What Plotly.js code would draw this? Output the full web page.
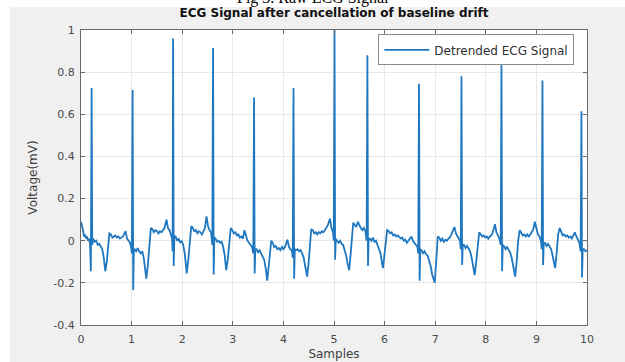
<!DOCTYPE html>
<html>
<head>
<meta charset="utf-8">
<script src="https://cdn.plot.ly/plotly-3.0.1.min.js"></script>
<style>html,body{margin:0;padding:0;background:#fff;}#chart{width:625px;height:362px;}</style>
</head>
<body>
<div id="chart"></div>
<script>
// ---- data ----
const seriesName = "Detrended ECG Signal";
const sampleX = [
0.00,0.02,0.04,0.06,0.08,0.10,0.12,0.14,0.16,0.18,0.195,0.21,0.222,
0.24,0.27,0.30,0.33,0.36,0.39,0.42,0.45,0.48,0.51,0.54,0.56,0.59,0.62,0.65,0.68,0.71,0.74,0.77,0.80,0.83,0.86,0.88,0.91,0.94,0.97,0.99,1.005,1.02,1.032,1.045,
1.06,1.09,1.12,1.15,1.18,1.21,1.24,1.27,1.29,1.32,1.35,1.38,1.41,1.44,1.47,1.50,1.53,1.56,1.59,1.62,1.65,1.69,1.72,1.75,1.78,1.80,1.81,1.82,1.832,1.845,
1.87,1.90,1.93,1.96,1.99,2.02,2.05,2.09,2.12,2.15,2.18,2.21,2.24,2.27,2.30,2.33,2.36,2.39,2.42,2.45,2.48,2.51,2.54,2.57,2.595,2.61,2.622,2.635,
2.66,2.69,2.72,2.75,2.78,2.81,2.84,2.87,2.90,2.93,2.96,2.99,3.02,3.05,3.08,3.11,3.14,3.17,3.20,3.23,3.26,3.29,3.32,3.35,3.38,3.405,3.42,3.432,3.445,
3.47,3.50,3.53,3.56,3.59,3.62,3.65,3.68,3.71,3.74,3.76,3.79,3.82,3.85,3.88,3.91,3.94,3.97,4.00,4.03,4.06,4.08,4.11,4.14,4.17,4.185,4.20,4.212,4.225,
4.25,4.28,4.31,4.34,4.37,4.40,4.43,4.47,4.50,4.53,4.55,4.58,4.61,4.64,4.67,4.70,4.73,4.76,4.79,4.82,4.85,4.88,4.92,4.95,4.98,4.995,5.01,5.022,5.035,
5.06,5.09,5.12,5.15,5.18,5.21,5.24,5.27,5.30,5.33,5.36,5.38,5.41,5.44,5.47,5.50,5.53,5.56,5.59,5.62,5.645,5.66,5.672,5.685,
5.71,5.74,5.77,5.80,5.83,5.86,5.89,5.92,5.95,5.97,6.00,6.03,6.05,6.08,6.11,6.14,6.17,6.20,6.23,6.26,6.29,6.32,6.35,6.38,6.41,6.44,6.47,6.50,6.53,6.56,6.59,6.62,6.65,6.665,6.68,6.692,6.705,
6.73,6.76,6.79,6.82,6.85,6.88,6.91,6.94,6.99,7.02,7.05,7.08,7.11,7.14,7.17,7.20,7.23,7.26,7.29,7.32,7.35,7.38,7.41,7.44,7.47,7.49,7.505,7.52,7.532,7.545,
7.57,7.60,7.63,7.66,7.69,7.72,7.75,7.78,7.81,7.84,7.87,7.90,7.93,7.96,7.99,8.02,8.05,8.08,8.11,8.14,8.18,8.21,8.24,8.27,8.295,8.31,8.322,8.335,
8.36,8.39,8.42,8.45,8.48,8.51,8.54,8.58,8.61,8.64,8.67,8.70,8.73,8.76,8.79,8.82,8.85,8.88,8.91,8.94,8.97,9.00,9.03,9.06,9.09,9.105,9.12,9.132,9.145,
9.17,9.20,9.23,9.26,9.29,9.32,9.35,9.37,9.40,9.43,9.46,9.49,9.52,9.55,9.58,9.61,9.64,9.67,9.70,9.73,9.76,9.79,9.82,9.85,9.875,9.89,9.902,9.915,9.94,9.97,10.00
];
const voltage = [
0.09,0.075,0.05,0.02,0.03,0.01,0.02,0.0,0.01,-0.02,-0.145,0.725,-0.02,
0.01,-0.005,0.0,-0.02,-0.015,-0.03,-0.04,-0.08,-0.145,-0.1,-0.02,0.035,0.03,0.015,0.02,0.025,0.015,0.02,0.01,0.015,0.02,0.035,0.045,0.01,0.0,-0.01,-0.03,-0.06,0.715,-0.235,-0.04,
-0.04,-0.05,-0.035,-0.05,-0.06,-0.05,-0.08,-0.14,-0.18,-0.12,-0.02,0.06,0.055,0.04,0.05,0.045,0.035,0.045,0.04,0.05,0.06,0.1,0.06,0.05,0.03,0.01,-0.05,0.96,-0.12,0.02,
0.02,0.0,0.01,-0.01,0.0,-0.02,-0.06,-0.155,-0.09,0.0,0.07,0.06,0.045,0.05,0.035,0.045,0.04,0.03,0.045,0.06,0.115,0.07,0.05,0.04,-0.02,0.915,-0.16,0.015,
0.01,-0.005,0.0,-0.01,-0.005,-0.03,-0.07,-0.14,-0.09,-0.01,0.06,0.05,0.035,0.04,0.025,0.03,0.015,0.02,0.01,0.05,0.02,0.0,-0.01,-0.02,-0.03,-0.06,0.68,-0.155,-0.04,
-0.04,-0.055,-0.045,-0.06,-0.07,-0.09,-0.13,-0.19,-0.12,-0.04,0.0,-0.01,-0.03,-0.025,-0.04,-0.035,-0.045,-0.03,-0.04,-0.03,-0.01,0.005,-0.03,-0.04,-0.05,-0.08,0.725,-0.18,-0.04,
-0.045,-0.04,-0.05,-0.045,-0.06,-0.08,-0.12,-0.17,-0.1,0.0,0.055,0.05,0.035,0.04,0.03,0.04,0.035,0.045,0.04,0.05,0.06,0.075,0.105,0.06,0.04,0.0,1.0,-0.09,0.01,
0.0,-0.01,0.0,-0.015,-0.02,-0.04,-0.07,-0.11,-0.14,-0.06,0.04,0.085,0.075,0.065,0.09,0.07,0.06,0.05,0.06,0.045,0.0,0.88,-0.12,0.01,
0.01,0.0,0.015,-0.005,0.0,-0.02,-0.03,-0.06,-0.11,-0.13,-0.06,0.02,0.05,0.045,0.035,0.04,0.025,0.03,0.02,0.025,0.015,0.01,0.015,0.0,0.005,-0.01,0.0,0.01,0.02,0.0,-0.01,-0.02,-0.03,-0.06,0.745,-0.19,-0.04,
-0.045,-0.06,-0.05,-0.065,-0.07,-0.09,-0.12,-0.16,-0.2,-0.1,0.02,0.015,0.0,0.01,-0.005,0.005,0.0,0.01,0.015,0.03,0.045,0.065,0.035,0.02,0.01,0.0,-0.04,0.78,-0.115,-0.02,
-0.02,-0.035,-0.025,-0.04,-0.05,-0.08,-0.12,-0.163,-0.1,-0.01,0.04,0.03,0.02,0.025,0.015,0.02,0.01,0.02,0.025,0.04,0.078,0.04,0.02,0.01,-0.02,0.85,-0.145,-0.02,
-0.025,-0.04,-0.03,-0.045,-0.055,-0.08,-0.12,-0.17,-0.1,0.0,0.05,0.04,0.025,0.03,0.02,0.03,0.02,0.03,0.04,0.055,0.09,0.05,0.03,0.02,0.0,-0.04,0.76,-0.115,-0.01,
-0.01,-0.025,-0.015,-0.03,-0.04,-0.07,-0.11,-0.13,-0.06,0.03,0.06,0.04,0.025,0.03,0.02,0.025,0.015,0.02,0.01,0.025,0.04,0.02,0.0,-0.01,-0.05,0.615,-0.175,-0.04,-0.04,-0.05,-0.045
];
const xTickVals = [0,1,2,3,4,5,6,7,8,9,10];
const xTickText = ["0","1","2","3","4","5","6","7","8","9","10"];
const yTickVals = [-0.4,-0.2,0,0.2,0.4,0.6,0.8,1];
const yTickText = ["-0.4","-0.2","0","0.2","0.4","0.6","0.8","1"];
const chartTitle = "ECG Signal after cancellation of baseline drift";
const xTitle = "Samples";
const yTitle = "Voltage(mV)";
const captionText = "Fig 3. Raw ECG Signal";

// ---- drawing ----
const axisCol = "#6a6a6a";
const fam = "DejaVu Sans, Liberation Sans, Arial, sans-serif";
const tickFont = {family: fam, size: 11, color: "#4a4a4a"};
const trace = {
  x: sampleX, y: voltage, type: "scatter", mode: "lines", name: seriesName,
  line: {color: "#1f77c0", width: 1.8}, showlegend: true
};
const layout = {
  width: 625, height: 362,
  margin: {l: 81, r: 38, t: 30, b: 37, pad: 0},
  paper_bgcolor: "#f0f0f0", plot_bgcolor: "#ffffff",
  font: {family: fam, color: "#404040"},
  title: {text: "<b>" + chartTitle + "</b>", font: {family: fam, size: 12, color: "#111"},
          xref: "paper", x: 0.5, xanchor: "center", yref: "container", y: 0.965, yanchor: "middle"},
  xaxis: {range: [0, 10], tickmode: "array", tickvals: xTickVals, ticktext: xTickText,
          ticks: "inside", ticklen: 4, tickcolor: axisCol, showline: true, linecolor: axisCol, linewidth: 1,
          mirror: "ticks", showgrid: true, gridcolor: "#e8e8e8", zeroline: false, tickfont: tickFont,
          ticklabelstandoff: 4,
          title: {text: xTitle, font: {family: fam, size: 12, color: "#404040"}, standoff: 4}},
  yaxis: {range: [-0.4, 1], tickmode: "array", tickvals: yTickVals, ticktext: yTickText,
          ticks: "inside", ticklen: 4, tickcolor: axisCol, showline: true, linecolor: axisCol, linewidth: 1,
          mirror: "ticks", showgrid: true, gridcolor: "#e8e8e8", zeroline: false, tickfont: tickFont,
          ticklabelstandoff: 3,
          title: {text: yTitle, font: {family: fam, size: 12, color: "#404040"}, standoff: 13}},
  legend: {x: 0.975, xanchor: "right", y: 0.985, yanchor: "top", bgcolor: "#ffffff",
           bordercolor: "#8a8a8a", borderwidth: 1, font: {family: fam, size: 12, color: "#303030"}, itemwidth: 45},
  shapes: [
    {type: "rect", xref: "paper", yref: "paper", x0: -0.2, x1: -0.1403, y0: -0.2, y1: 1.2,
     fillcolor: "#ffffff", line: {width: 0}},
    {type: "rect", xref: "paper", yref: "paper", x0: -0.2, x1: 1.2, y0: 1.078, y1: 1.2,
     fillcolor: "#ffffff", line: {width: 0}}
  ],
  annotations: [
    {text: captionText, xref: "paper", yref: "paper", x: 0.458, y: 1.108, xanchor: "center", yanchor: "middle",
     showarrow: false, font: {family: "Liberation Serif, Times New Roman, serif", size: 16, color: "#000"}}
  ]
};
Plotly.newPlot("chart", [trace], layout, {displayModeBar: false, staticPlot: true});
</script>
</body>
</html>
